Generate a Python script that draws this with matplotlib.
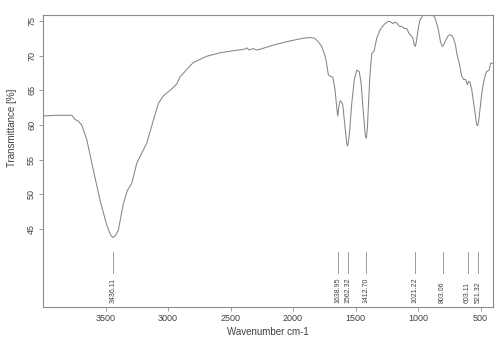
import matplotlib
matplotlib.use("Agg")
import matplotlib.pyplot as plt
import matplotlib.transforms as mtransforms

plt.rcParams['font.family'] = ['Liberation Sans', 'DejaVu Sans']

wavenumber = [4000, 3900, 3800, 3770, 3744, 3720, 3690, 3650, 3597, 3544, 3490, 3460,
              3440, 3420, 3397, 3357, 3325, 3290, 3250, 3197, 3170, 3117, 3077, 3037,
              2970, 2930, 2904, 2850, 2797, 2690, 2584, 2477, 2390, 2370, 2350, 2320,
              2290, 2264, 2158, 2050, 1917, 1864, 1830, 1810, 1790, 1770, 1750, 1736,
              1717, 1700, 1682, 1664, 1650, 1642, 1634, 1624, 1610, 1602, 1585, 1570,
              1562, 1550, 1530, 1510, 1490, 1470, 1455, 1443, 1421, 1413, 1405, 1397,
              1385, 1370, 1352, 1330, 1304, 1270, 1240, 1224, 1200, 1185, 1170, 1150,
              1130, 1110, 1090, 1075, 1064, 1050, 1042, 1030, 1022, 1015, 1005, 995,
              984, 960, 944, 930, 904, 880, 864, 850, 837, 820, 805, 795, 784, 760,
              744, 730, 717, 700, 690, 670, 650, 632, 620, 605, 595, 585, 570, 550,
              530, 522, 515, 504, 490, 477, 460, 450, 432, 418, 400]
transmittance = [61.3, 61.4, 61.4, 61.4, 60.8, 60.6, 60.0, 57.9, 53.5, 49.2, 45.6, 44.2,
                 43.8, 44.1, 44.9, 48.7, 50.6, 51.6, 54.5, 56.4, 57.4, 60.7, 63.1, 64.2,
                 65.2, 65.9, 66.9, 68.0, 69.0, 69.9, 70.4, 70.7, 70.9, 71.1, 70.8, 71.0,
                 70.8, 70.9, 71.5, 72.0, 72.5, 72.6, 72.5, 72.2, 71.8, 71.3, 70.3, 69.4,
                 67.2, 67.0, 66.9, 65.1, 62.5, 61.3, 62.5, 63.5, 63.3, 62.9, 60.0, 57.3,
                 57.0, 58.5, 63.1, 66.5, 67.9, 67.7, 66.0, 63.1, 58.4, 58.1, 59.5, 62.7,
                 67.0, 70.3, 70.6, 72.5, 73.7, 74.5, 74.9, 74.9, 74.6, 74.8, 74.7, 74.2,
                 74.2, 73.9, 73.9, 73.3, 73.0, 72.8, 72.5, 71.6, 71.3, 71.8, 73.0, 74.2,
                 75.1, 75.8, 76.2, 75.9, 76.1, 75.8, 75.4, 74.6, 73.7, 72.0, 71.3, 71.5,
                 72.0, 72.8, 73.0, 72.9, 72.5, 71.5, 70.3, 68.9, 67.0, 66.5, 66.6, 65.8,
                 66.3, 66.2, 65.1, 62.5, 60.0, 59.9, 60.5, 62.2, 64.5, 66.0, 67.3, 67.7,
                 67.9, 68.9, 68.9]

peak_positions = [3436.11, 1638.95, 1562.32, 1412.70, 1021.22, 803.06, 603.11, 521.32]
peak_labels = ["3436.11", "1638.95", "1562.32", "1412.70", "1021.22", "803.06", "603.11", "521.32"]

x_ticks = [3500, 3000, 2500, 2000, 1500, 1000, 500]
y_ticks = [45, 50, 55, 60, 65, 70, 75]

grey = '#8c8c8c'
txt = '#404040'

fig = plt.figure(figsize=(5.0, 3.45), dpi=100)
ax = fig.add_axes([0.086, 0.110, 0.900, 0.847])

ax.plot(wavenumber, transmittance, color='#858585', lw=0.75)

ax.set_xlim(4000, 400)
ax.set_ylim(33.8, 75.86)
ax.set_xticks(x_ticks)
ax.set_yticks(y_ticks)
ax.set_xticklabels([str(t) for t in x_ticks], fontsize=6.5, color=txt)
ax.set_yticklabels([str(t) for t in y_ticks], fontsize=6.5, color=txt,
                   rotation=90, va='center')
ax.tick_params(axis='both', direction='out', length=3, width=0.6, color=grey, pad=2)

for s in ax.spines.values():
    s.set_color(grey)
    s.set_linewidth(0.8)

ax.set_xlabel('Wavenumber cm-1', fontsize=7, color=txt, labelpad=3)
ax.set_ylabel('Transmittance [%]', fontsize=7, color=txt)
ax.yaxis.set_label_coords(-0.058, 0.615)

trans = mtransforms.blended_transform_factory(ax.transData, ax.transAxes)
for xp, lab in zip(peak_positions, peak_labels):
    ax.plot([xp, xp], [0.116, 0.188], transform=trans, color=grey, lw=0.6)
    ax.text(xp, 0.014, lab, transform=trans, rotation=90, fontsize=5,
            ha='center', va='bottom', color=txt)

fig.savefig('out.png', dpi=100)
